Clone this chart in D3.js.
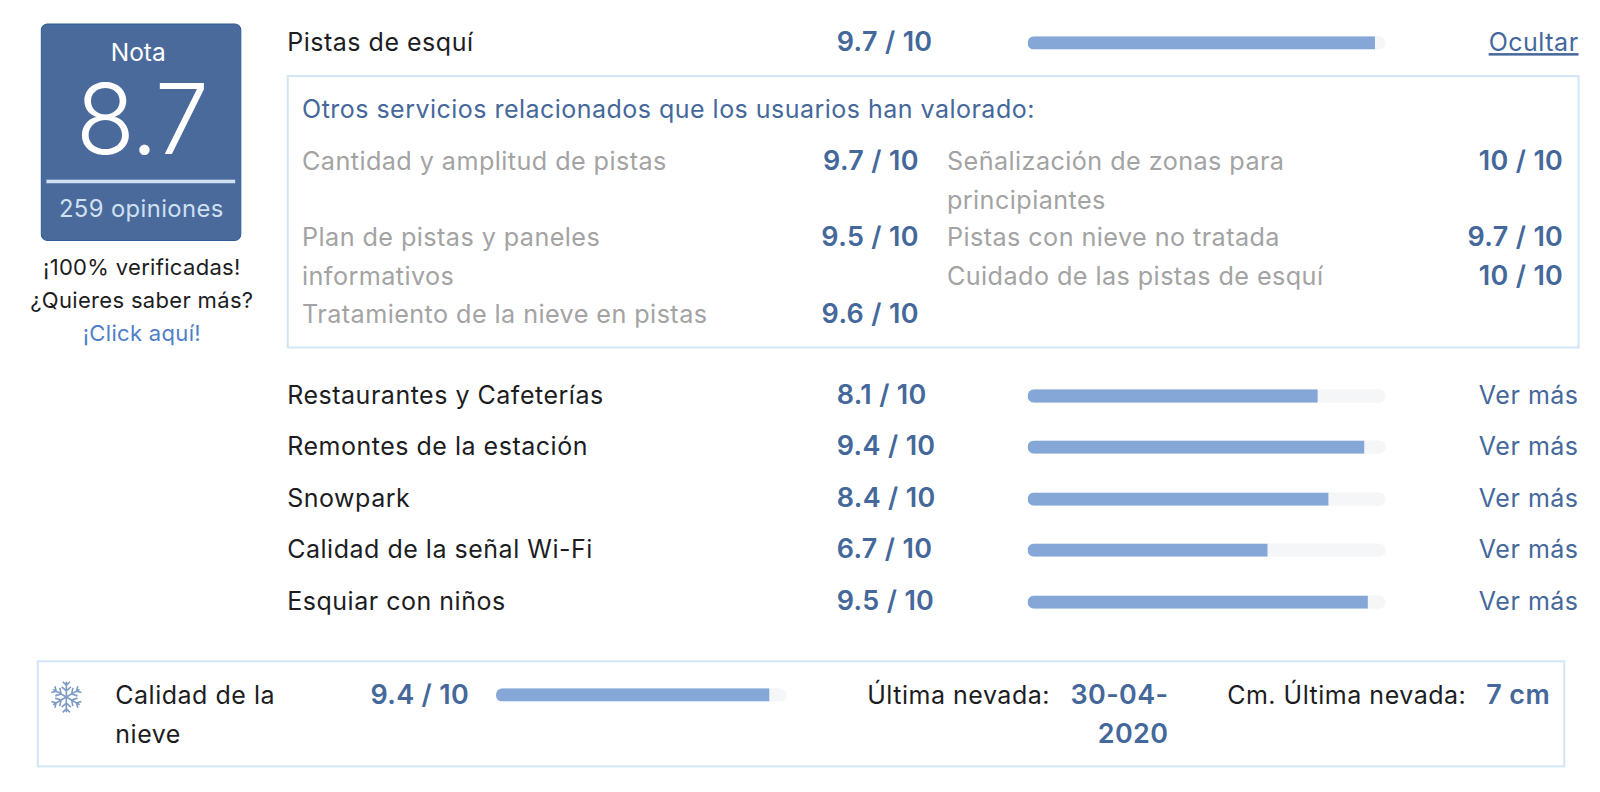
<!DOCTYPE html>
<html><head><meta charset="utf-8">
<script src="https://cdn.jsdelivr.net/npm/d3@7/dist/d3.min.js"></script>
<style>html,body{margin:0;padding:0;background:#fff}svg{display:block}text{font-family:Inter,"Open Sans",sans-serif}</style>
</head><body><svg id="c" width="1600" height="792" viewBox="0 0 1568 776"></svg>
<script>
const overallScore = "8.7";
const overallLabel = "Nota";
const reviewCount = "259 opiniones";
const noteLines = ["¡100% verificadas!", "¿Quieres saber más?"];
const noteLink = "¡Click aquí!";
const categories = ["Pistas de esquí","Restaurantes y Cafeterías","Remontes de la estación","Snowpark","Calidad de la señal Wi-Fi","Esquiar con niños"];
const categoryValues = [9.7,8.1,9.4,8.4,6.7,9.5];
const categoryActions = ["Ocultar","Ver más","Ver más","Ver más","Ver más","Ver más"];
const detailTitle = "Otros servicios relacionados que los usuarios han valorado:";
const detailLeftLabels = [["Cantidad y amplitud de pistas"],["Plan de pistas y paneles","informativos"],["Tratamiento de la nieve en pistas"]];
const detailLeftValues = ["9.7 / 10","9.5 / 10","9.6 / 10"];
const detailRightLabels = [["Señalización de zonas para","principiantes"],["Pistas con nieve no tratada"],["Cuidado de las pistas de esquí"]];
const detailRightValues = ["10 / 10","9.7 / 10","10 / 10"];
const snowLabel = ["Calidad de la","nieve"];
const snowValue = 9.4;
const lastSnowLabel = "Última nevada:";
const lastSnowDate = ["30-04-","2020"];
const lastCmLabel = "Cm. Última nevada:";
const lastCmValue = "7 cm";

const BLUE="#45689b", DARK="#1d1d1f", GREY="#a3a3a3", BORDER="#d3e6f8", BAR="#85a7d8", TRACK="#f5f6f7";
const NUM={c:BLUE,w:600,s:26.4,ls:0.35};
const svg=d3.select("#c");
function t(x,y,s,o={}){
  return svg.append("text").attr("x",x).attr("y",y).text(s)
    .attr("text-anchor",o.a||"start").attr("fill",o.c||DARK)
    .attr("font-size",o.s||24.5).attr("font-weight",o.w||400)
    .attr("letter-spacing",o.ls==null?0.5:o.ls);
}
// score card
svg.append("rect").attr("x",40.5).attr("y",23.5).attr("width",195.5).attr("height",212).attr("rx",6).attr("fill","#4a6a9c").attr("stroke","#2f5d95");
t(135.5,60,overallLabel,{a:"middle",c:"#fff",s:24,ls:0});
t(138.5,151,overallScore,{a:"middle",c:"#fff",s:95,w:300,ls:-2});
svg.append("rect").attr("x",45.5).attr("y",176).attr("width",185).attr("height",3.5).attr("fill","#cfe0f3");
t(138.5,213,reviewCount,{a:"middle",c:"#cfe0f3",s:23.3,ls:0.4});
noteLines.forEach((s,i)=>t(139,269.5+i*32.5,s,{a:"middle",s:21.6,ls:0.3}));
t(139,334,noteLink,{a:"middle",c:"#4f7fc9",s:21.6,ls:0.3});

// bars
function bar(x0,x1,yc,v){
  const x=d3.scaleLinear().domain([0,10]).range([x0,x1]);
  const h=13;
  const id="clip"+Math.round(yc);
  svg.append("clipPath").attr("id",id).append("rect").attr("x",x0).attr("y",yc-h/2).attr("width",x(v)-x0).attr("height",h);
  svg.append("rect").attr("x",x(0)).attr("y",yc-h/2).attr("width",x(10)-x(0)).attr("height",h).attr("rx",6.5).attr("fill",TRACK);
  svg.append("rect").attr("x",x(0)).attr("y",yc-h/2).attr("width",x(10)-x(0)).attr("height",h).attr("rx",6.5).attr("fill",BAR).attr("clip-path",`url(#${id})`);
}
const rowY=d3.scaleOrdinal().domain(categories).range([42,388,438,489,539,590]);
categories.forEach((c,i)=>{
  const y=rowY(c);
  t(281.5,y+8,c);
  t(820,y+8,categoryValues[i].toFixed(1)+" / 10",NUM);
  bar(1007,1358,y,categoryValues[i]);
  const a=t(1547,y+8,categoryActions[i],{a:"end",c:BLUE});
  if(i===0)a.attr("text-decoration","underline");
});

// details box
svg.append("rect").attr("x",282).attr("y",74.5).attr("width",1265).attr("height",266).attr("fill","none").attr("stroke",BORDER).attr("stroke-width",2);
t(296,116,detailTitle,{c:BLUE,s:24.5,ls:0.47});
function details(x,xr,labels,values,ys){
  labels.forEach((ls,i)=>{
    ls.forEach((s,j)=>t(x,ys[i]+j*38,s,{c:GREY,s:24.7,ls:0.42}));
    t(xr,ys[i],values[i],{...NUM,a:"end"});
  });
}
details(296,900.5,detailLeftLabels,detailLeftValues,[166.5,241,316]);
details(928,1532,detailRightLabels,detailRightValues,[166.5,241,279]);

// snow box
svg.append("rect").attr("x",37).attr("y",648).attr("width",1496).attr("height",103).attr("fill","none").attr("stroke",BORDER).attr("stroke-width",2);
const flake=svg.append("g").attr("transform","translate(65,683)").attr("stroke","#7f9cc6").attr("stroke-width",1.6).attr("fill","none");
d3.range(6).forEach(k=>{
  const g=flake.append("g").attr("transform",`rotate(${k*60})`);
  g.append("path").attr("d","M0,0V-15M-3.5,-15L0,-11.5L3.5,-15M-4.5,-10L0,-6L4.5,-10");
});
snowLabel.forEach((s,i)=>t(113,689.5+i*38.5,s));
t(363,689.5,snowValue.toFixed(1)+" / 10",NUM);
bar(486,771,681,snowValue);
t(1029,689.5,lastSnowLabel,{a:"end"});
lastSnowDate.forEach((s,i)=>t(1145,689.5+i*38.5,s,{...NUM,a:"end"}));
t(1437,689.5,lastCmLabel,{a:"end"});
t(1519,689.5,lastCmValue,{...NUM,a:"end"});
</script></body></html>
